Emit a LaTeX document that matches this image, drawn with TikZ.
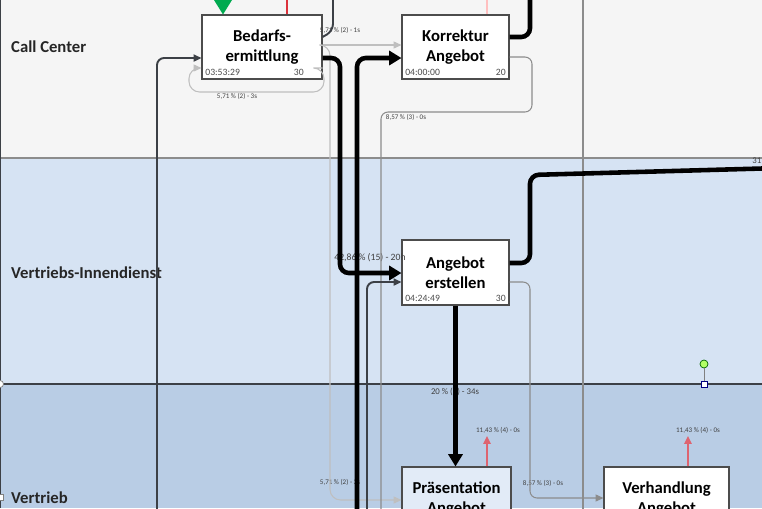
\documentclass[tikz,border=0pt]{standalone}
\usepackage{fontspec}
\setmainfont{Carlito}
\usetikzlibrary{arrows.meta}
\definecolor{ccgray}{RGB}{245,245,245}
\definecolor{vidblue}{RGB}{214,227,243}
\definecolor{vtblue}{RGB}{185,205,229}
\definecolor{praesfill}{RGB}{226,235,247}
\definecolor{flowred}{RGB}{220,50,60}
\definecolor{flowpink}{RGB}{222,100,112}
\definecolor{startgreen}{RGB}{0,170,80}
\definecolor{flowdark}{RGB}{60,64,70}

\begin{document}
\begin{tikzpicture}[x=0.02cm,y=-0.02cm,
  activity/.style={rectangle,draw=black!70,line width=0.6pt,fill=white,align=center,
    font=\fontsize{9.5}{11.5}\selectfont\bfseries,inner sep=0pt},
  timelbl/.style={font=\fontsize{5.5}{6}\selectfont,text=black!70,inner sep=2pt},
  flowlbl/.style={font=\fontsize{4}{5}\selectfont,text=black!75,inner sep=0pt},
  lanelbl/.style={anchor=west,font=\fontsize{9.5}{11}\selectfont\bfseries,text=black!85},
  thickflow/.style={line width=2.6pt,rounded corners=5pt},
  darkpath/.style={flowdark,line width=1.1pt,rounded corners=4pt},
  graypath/.style={black!45,line width=0.6pt,rounded corners=4pt},
  lightpath/.style={black!25,line width=0.6pt,rounded corners=6pt},
  bigtip/.style={-{Triangle[length=7pt,width=8pt]}},
  smalltip/.style={-{Triangle[length=4.5pt,width=4pt]}}]
\useasboundingbox (0,0) rectangle (762,508);
\clip (0,0) rectangle (762,508);
% swimlanes
\fill[ccgray] (0,0) rectangle (762,158);
\fill[vidblue] (0,158) rectangle (762,384);
\fill[vtblue] (0,384) rectangle (762,508);
\draw[black!45,line width=0.6pt] (0,158) -- (762,158);
\draw[flowdark,line width=0.8pt] (0,384) -- (762,384);
\draw[flowdark,line width=1pt] (0.5,0) -- (0.5,508);
\node[lanelbl] (cc) at (5,47) {Call Center};
\node[lanelbl] (vid) at (5,273) {Vertriebs-Innendienst};
\node[lanelbl] (vt) at (5,498) {Vertrieb};

% activities
\node[activity,minimum width=2.4cm,minimum height=1.28cm] (bedarf) at (262,47) {Bedarfs-\\ermittlung};
\node[activity,minimum width=2.14cm,minimum height=1.28cm] (korrektur) at (455.5,47) {Korrektur\\Angebot};
\node[activity,minimum width=2.14cm,minimum height=1.3cm] (erstellen) at (455.5,272.5) {Angebot\\erstellen};
\node[activity,fill=praesfill,minimum width=2.18cm,minimum height=1.28cm] (praes) at (456.5,499) {Pr\"asentation\\Angebot};
\node[activity,minimum width=2.5cm,minimum height=1.28cm] (verhandl) at (666.5,499) {Verhandlung\\Angebot};
\node[timelbl,anchor=south west] (t1) at (bedarf.south west) {03:53:29};
\node[timelbl,anchor=south east,xshift=-0.3cm] (n1) at (bedarf.south east) {30};
\node[timelbl,anchor=south west] (t2) at (korrektur.south west) {04:00:00};
\node[timelbl,anchor=south east] (n2) at (korrektur.south east) {20};
\node[timelbl,anchor=south west] (t3) at (erstellen.south west) {04:24:49};
\node[timelbl,anchor=south east] (n3) at (erstellen.south east) {30};

% free ends
\coordinate (topa) at (287,-10);
\coordinate (topb) at (487,-10);
\coordinate (topc) at (333,-10);
\coordinate (topd) at (583,-10);
\coordinate (tope) at (530,-10);
\coordinate (bota) at (157,520);
\coordinate (botb) at (357,520);
\coordinate (botc) at (367,520);
\coordinate (botd) at (381,520);
\coordinate (bote) at (583,520);
\coordinate (righta) at (780,168);

% labels
\node[flowlbl] (f1) at (340,30) {5,71 \% (2) - 1s};
\node[flowlbl] (f2) at (237,96) {5,71 \% (2) - 3s};
\node[flowlbl] (f3) at (406,117) {8,57 \% (3) - 0s};
\node[flowlbl,font=\fontsize{5.5}{6}\selectfont] (f4) at (370,258) {42,86 \% (15) - 20h};
\node[flowlbl,font=\fontsize{5}{6}\selectfont] (f5) at (455,392) {20 \% (7) - 34s};
\node[flowlbl] (f6) at (498,430) {11,43 \% (4) - 0s};
\node[flowlbl] (f7) at (698,430) {11,43 \% (4) - 0s};
\node[flowlbl] (f8) at (543,483) {8,57 \% (3) - 0s};
\node[flowlbl] (f9) at (340,482) {5,71 \% (2) - 3s};
\node[flowlbl,anchor=west,font=\fontsize{5}{6}\selectfont] (f10) at (752,161) {31};

% start and end
\fill[startgreen] (214,0) -- (232,0) -- (bedarf.north -| 223,0) -- cycle;
\draw[flowred,line width=1.4pt] (topa) -- (bedarf.north -| topa);
\draw[red!25,line width=0.6pt] (topb) -- (korrektur.north -| topb);
\draw[flowpink,line width=1.2pt,smalltip] (praes.north -| 487,0) -- (487,436);
\draw[flowpink,line width=1.2pt,smalltip] (verhandl.north -| 688,0) -- (688,436);

% light and gray flows
\draw[lightpath,smalltip] (bedarf.east |- 0,68) -| (324,92) -| (189,68) -- (bedarf.west |- 0,68);
\draw[lightpath,smalltip] (bedarf.east |- 0,45) -- (korrektur.west |- 0,45);
\draw[lightpath,smalltip] (bedarf.east |- 0,45) -- (330,45) -- (330,500) -- (praes.west |- 0,500);
\draw[graypath] (korrektur.east |- 0,57) -- (532,57) -- (532,112) -- (381,112) -- (botd);
\draw[graypath,smalltip] (erstellen.east |- 0,282) -- (530,282) -- (530,498) -- (verhandl.west |- 0,498);
\draw[graypath] (topd) -- (bote);

% dark flows
\draw[darkpath,smalltip] (bota) -- (157,58) -- (bedarf.west |- 0,58);
\draw[darkpath,smalltip] (botc) -- (367,282) -- (erstellen.west |- 0,282);
\draw[darkpath] (topc) -- (333,31) -- (bedarf.east |- 0,37);

% thick flows
\draw[thickflow,bigtip] (bedarf.east |- 0,58) -- (340,58) -- (340,273) -- (erstellen.west |- 0,273);
\draw[thickflow,bigtip] (botb) -- (357,58) -- (korrektur.west |- 0,58);
\draw[thickflow,bigtip] (erstellen.south) -- (erstellen.south |- praes.north);
\draw[thickflow] (erstellen.east |- 0,263) -- (530,263) -- (530,175) -- (righta);
\draw[thickflow] (korrektur.east |- 0,37) -- (530,37) -- (tope);

% selection handles
\node[circle,draw=green!40!black,fill=green!50!yellow!60,minimum size=0.16cm,inner sep=0pt] (rot) at (704,364) {};
\node[rectangle,draw=blue!50!black,fill=white,minimum size=0.12cm,inner sep=0pt] (hdl) at (704,384) {};
\draw[black!50,line width=0.4pt] (rot) -- (hdl);
\node[circle,draw=black!50,fill=white,minimum size=0.14cm,inner sep=0pt] (hl1) at (0,384) {};
\node[rectangle,draw=black!50,fill=white,minimum size=0.12cm,inner sep=0pt] (hl2) at (0,497) {};
\end{tikzpicture}
\end{document}
